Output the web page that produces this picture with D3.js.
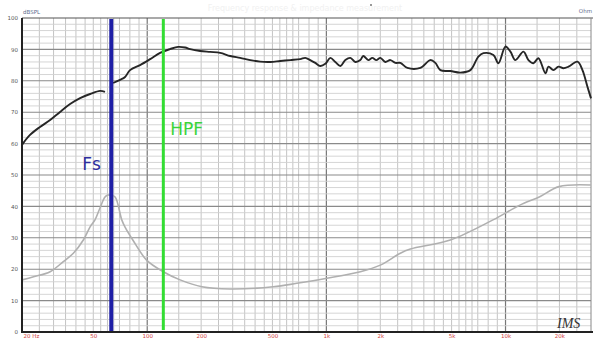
<!DOCTYPE html>
<html><head><meta charset="utf-8">
<script src="https://cdn.jsdelivr.net/npm/d3@7"></script>
<style>
html,body{margin:0;padding:0;background:#fff;overflow:hidden;}
svg{display:block;}
</style></head>
<body>
<svg id="chart" width="593" height="340"></svg>
<script>
// ---- data ----
const splFreq = [20,22.1,25.2,28.7,32.6,37.1,42.2,48.0,54.5,58.1,null,64.5,70.5,75.2,80.2,91.2,103.8,118,134.2,148.8,162.8,173.6,197.4,224.5,255.4,290.4,330.3,375.6,427.2,485.8,552.5,628.4,714.7,762.2,812.7,867.2,924.9,986.4,1051.9,1121.9,1196.4,1275.9,1360.7,1451.1,1547.8,1607,1714,1805,1900,2001,2134,2276,2427,2588,2831,3346,3805,4058,4328,4922,5598,6366,7055,7526,8559,9128,9987,10650,11359,12588,13425,14316,15269,16706,17362,18513,19743,21056,22456,25208,26880,28664,30000];
const splValues = [59.6,62.7,65.3,67.5,70.1,72.6,74.5,75.8,76.8,76.5,null,79.3,80.3,81.2,83.4,85.0,86.9,88.9,90.1,90.8,90.6,90.1,89.5,89.2,88.9,87.9,87.3,86.6,86.1,86.0,86.3,86.6,86.9,87.3,86.6,85.7,84.7,85.4,87.3,86.0,84.7,86.6,87.3,86.0,86.6,87.9,86.6,87.3,86.6,87.3,86.0,86.6,85.7,85.7,84.1,84.1,86.6,85.7,83.4,83.1,82.6,83.4,87.7,88.8,88.2,85.6,90.9,89.3,86.6,89.3,86.6,85.6,87.2,82.4,84.5,83.4,84.5,84.0,84.5,86.1,83.4,78.1,74.4];
const impFreq = [20,23.2,28.7,34.0,38.7,44.0,48.0,51.1,54.5,58.1,60.4,62.6,66.2,72.1,75.2,83.1,99.2,123,152.6,202,290,505,684,1006,1548,2001,2588,2943,4922,8513,12030,15530,19880,30000];
const impValues = [16.6,17.6,19.2,22.4,25.1,29.3,33.5,35.7,39.5,43.0,43.6,43.6,43.0,35.7,33.4,29.3,22.9,19.2,16.6,14.4,13.7,14.4,15.5,17.1,19.2,21.3,25.1,26.4,29.3,35.7,40.4,43.1,46.3,46.8];
const markerFreq = [63, 123];
const markerLabels = ["Fs", "HPF"];
const xTickValues = [20,50,100,200,500,1000,2000,5000,10000,20000];
const xTickLabels = ["20 Hz","50","100","200","500","1k","2k","5k","10k","20k"];
const yTickValues = [0,10,20,30,40,50,60,70,80,90,100];
const gridMultipliers = [1,1.5,2,2.5,3,3.5,4,4.5,5,5.5,6,6.5,7,8,9];
const decades = [10,100,1000,10000];

// ---- layout ----
const svg = d3.select("#chart");
const L = 22, R = 591, T = 18, B = 332;
const x = d3.scaleLog().domain([20, 30000]).range([L, R]);
const y = d3.scaleLinear().domain([0, 100]).range([B, T]);

// faint title
svg.append("text").attr("x", 305).attr("y", 11).attr("text-anchor","middle")
  .attr("font-family","DejaVu Sans").attr("font-size",8).attr("fill","#f1f1f1")
  .text("Frequency response & impedance measurement");
svg.append("circle").attr("cx",371).attr("cy",5).attr("r",1).attr("fill","#777");

// vertical grid
const vgrid = [];
decades.forEach(d => gridMultipliers.forEach(m => { const f = d*m; if (f > 20 && f < 30000) vgrid.push({f, major: m===1}); }));
svg.append("g").selectAll("line").data(vgrid).join("line")
  .attr("x1", d => x(d.f)).attr("x2", d => x(d.f)).attr("y1", T).attr("y2", B)
  .attr("stroke", d => d.major ? "#777" : "#bdbdbd").attr("stroke-width", d => d.major ? 1.2 : 0.9);

// horizontal grid
const hgrid = d3.range(2, 100, 2);
svg.append("g").selectAll("line").data(hgrid).join("line")
  .attr("x1", L).attr("x2", R).attr("y1", d => y(d)).attr("y2", d => y(d))
  .attr("stroke", d => d % 10 === 0 ? "#8a8a8a" : "#d0d0d0").attr("stroke-width", d => d % 10 === 0 ? 1.1 : 0.9);

// frame
svg.append("line").attr("x1", L).attr("x2", R+2).attr("y1", T).attr("y2", T).attr("stroke","#555").attr("stroke-width",1.2);
svg.append("line").attr("x1", R).attr("x2", R).attr("y1", T).attr("y2", B).attr("stroke","#888").attr("stroke-width",1);

// curves
const line = d3.line().defined(d => d[0] != null && d[1] != null).x(d => x(d[0])).y(d => y(d[1])).curve(d3.curveCatmullRom.alpha(0.5));
svg.append("path").datum(impFreq.map((f,i)=>[f, impValues[i]]))
  .attr("d", line).attr("fill","none").attr("stroke","#b0b0b0").attr("stroke-width",1.6);
svg.append("path").datum(splFreq.map((f,i)=>[f, splValues[i]]))
  .attr("d", line).attr("fill","none").attr("stroke","#262626").attr("stroke-width",1.9);

// markers
const markerColors = ["#1f1fa6", "#33dd33"];
const markerWidths = [4, 3];
svg.append("g").selectAll("line").data(markerFreq).join("line")
  .attr("x1", d => x(d)).attr("x2", d => x(d)).attr("y1", T+1).attr("y2", (d,i)=> i===0 ? B : B-2)
  .attr("stroke", (d,i) => markerColors[i]).attr("stroke-width", (d,i) => markerWidths[i]);
svg.append("text").attr("x", x(markerFreq[0]) - 29).attr("y", 170)
  .attr("font-family","DejaVu Sans").attr("font-size",17).attr("fill","#2e2e9e").text(markerLabels[0]);
svg.append("text").attr("x", x(markerFreq[1]) + 7).attr("y", 135)
  .attr("font-family","DejaVu Sans").attr("font-size",17).attr("fill","#3ad43a").text(markerLabels[1]);

// axes
const yAxis = svg.append("g").attr("transform", `translate(${L},0)`)
  .call(d3.axisLeft(y).tickValues(yTickValues).tickSize(0).tickPadding(4));
yAxis.select(".domain").remove();
yAxis.selectAll("text").attr("font-family","DejaVu Sans").attr("font-size",5.5).attr("fill","#555");

const xAxis = svg.append("g").attr("transform", `translate(0,${B})`)
  .call(d3.axisBottom(x).tickValues(xTickValues).tickFormat((d,i)=>xTickLabels[i]).tickSize(0).tickPadding(2));
xAxis.select(".domain").remove();
xAxis.selectAll("text").attr("font-family","DejaVu Sans").attr("font-size",5.5).attr("fill","#d04040")
  .attr("dy","0.71em");
xAxis.selectAll(".tick").filter((d,i)=>i===0).select("text").attr("text-anchor","start").attr("x",1);

svg.append("line").attr("x1", L).attr("x2", L).attr("y1", T).attr("y2", B+1).attr("stroke","#222").attr("stroke-width",2);
svg.append("line").attr("x1", L-1).attr("x2", R+2).attr("y1", B).attr("y2", B).attr("stroke","#222").attr("stroke-width",2);

// unit labels
svg.append("text").attr("x", 23).attr("y", 14).attr("font-family","DejaVu Sans").attr("font-size",5.5).attr("fill","#5a6a8c").text("dBSPL");
svg.append("text").attr("x", 592).attr("y", 13).attr("text-anchor","end").attr("font-family","DejaVu Sans").attr("font-size",5.5).attr("fill","#5a6a8c").text("Ohm");

// signature
svg.append("text").attr("x", 557).attr("y", 328).attr("font-family","Liberation Serif").attr("font-style","italic")
  .attr("font-size",14).attr("fill","#333").text("IMS");
</script>
</body></html>
